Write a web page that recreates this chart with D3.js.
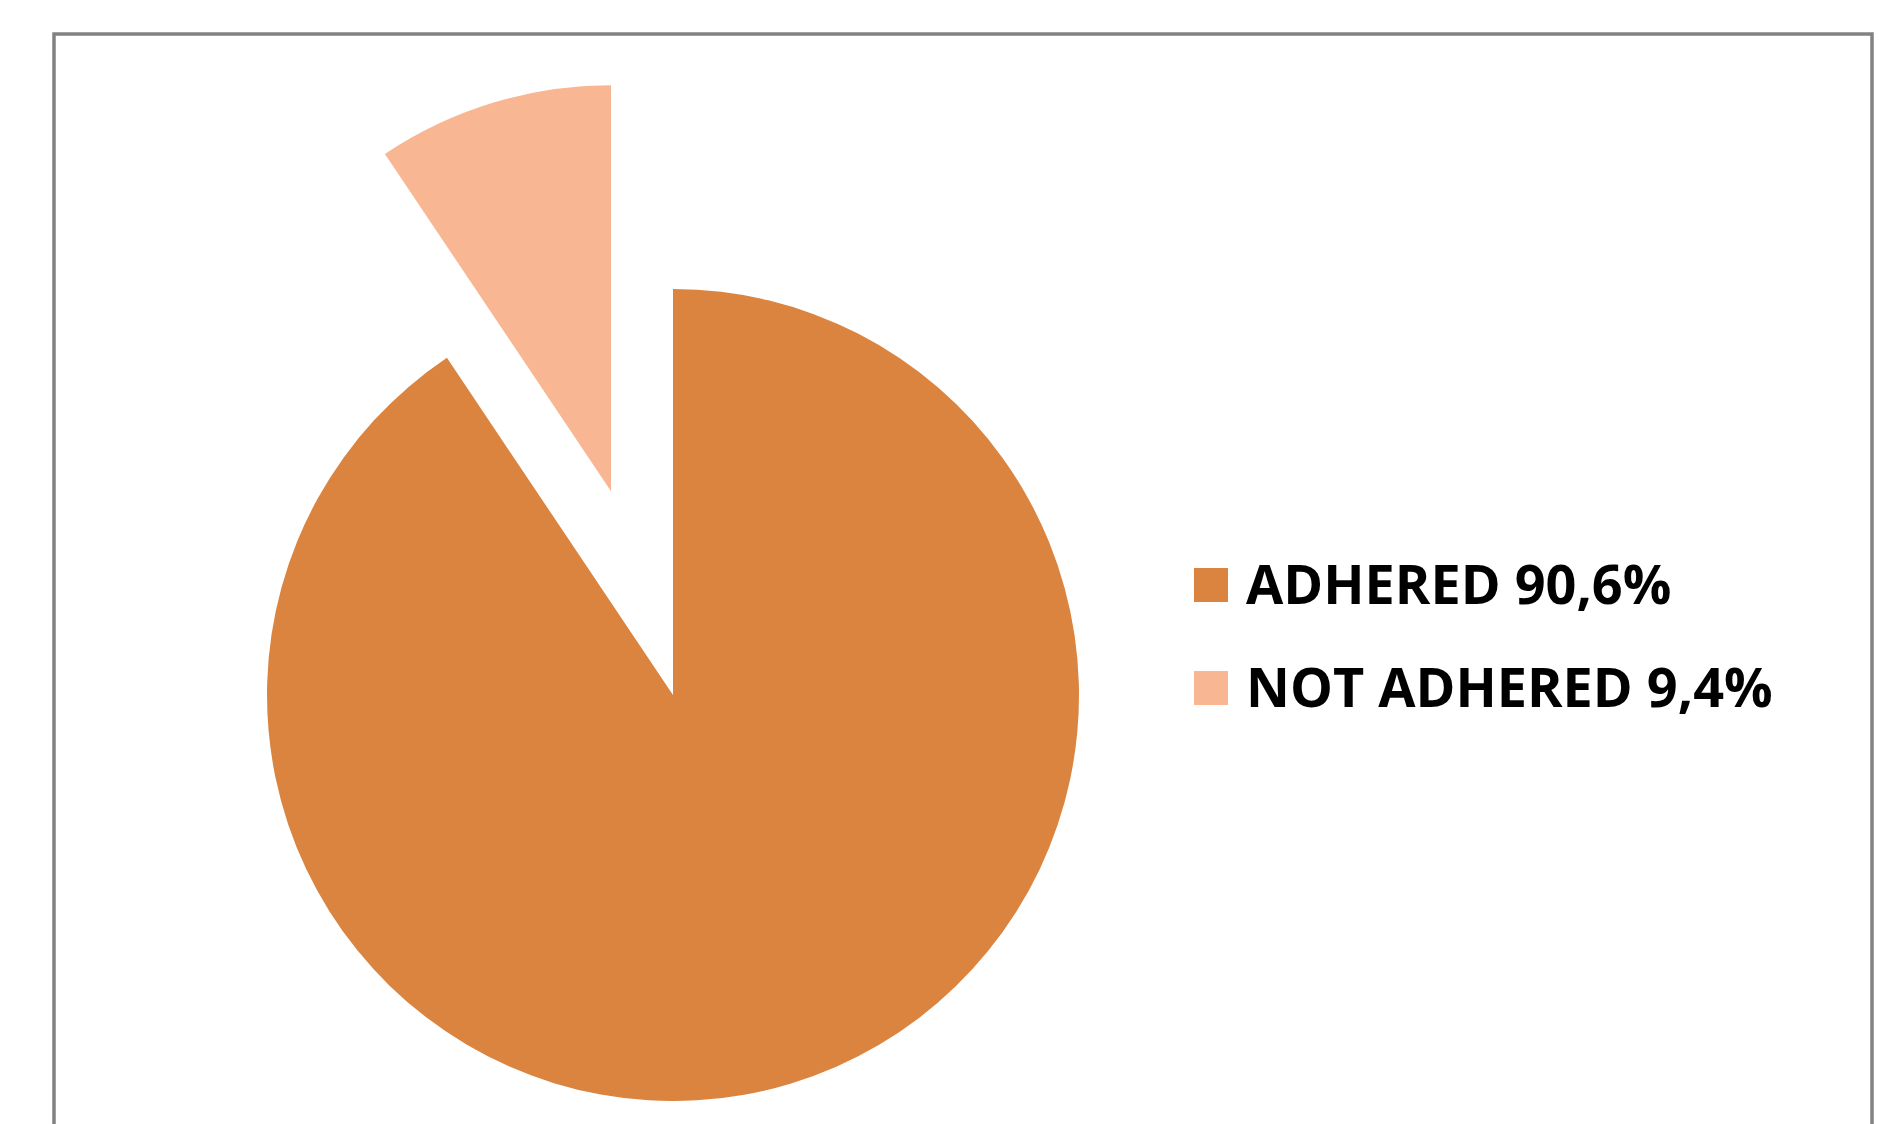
<!DOCTYPE html>
<html>
<head>
<meta charset="utf-8">
<script src="https://cdn.jsdelivr.net/npm/d3@7"></script>
<style>
    html, body { margin: 0; padding: 0; background: #fff; }
    svg { display: block; }
</style>
</head>
<body>
<svg id="chart"></svg>
<script>
const categories = ['ADHERED', 'NOT ADHERED'];
const values = [90.6, 9.4];
const valueLabels = ['90,6%', '9,4%'];
const colors = ['#DB843F', '#F8B692'];
const explode = [0, 213];

function renderChart() {
    const width = 1879;
    const height = 1124;
    const cx = 673;
    const cy = 695;
    const radius = 406;

    const svg = d3
        .select('#chart')
        .attr('width', width)
        .attr('height', height)
        .style('font-family', '"Open Sans", sans-serif');

    // chart area frame (bottom edge falls outside the picture)
    svg.append('rect')
        .attr('x', 54)
        .attr('y', 34)
        .attr('width', 1818)
        .attr('height', 1200)
        .attr('fill', '#fff')
        .attr('stroke', '#828282')
        .attr('stroke-width', 3.5);

    const data = categories.map((c, i) => ({
        name: c,
        value: values[i],
        label: valueLabels[i],
        color: colors[i],
        offset: explode[i]
    }));

    const pie = d3.pie().sort(null).value((d) => d.value);
    const arc = d3.arc().innerRadius(0).outerRadius(radius);

    svg.append('g')
        .attr('transform', `translate(${cx},${cy})`)
        .selectAll('path')
        .data(pie(data))
        .enter()
        .append('path')
        .attr('d', arc)
        .attr('fill', (d) => d.data.color)
        .attr('transform', (d) => {
            const mid = (d.startAngle + d.endAngle) / 2;
            const dx = Math.sin(mid) * d.data.offset;
            const dy = -Math.cos(mid) * d.data.offset;
            return `translate(${dx},${dy})`;
        });

    // legend
    const legend = svg
        .append('g')
        .selectAll('g')
        .data(data)
        .enter()
        .append('g')
        .attr('transform', (d, i) => `translate(1194,${568 + i * 103})`);

    legend.append('rect')
        .attr('width', 34)
        .attr('height', 34)
        .attr('fill', (d) => d.color);

    legend.append('text')
        .attr('x', 52)
        .attr('y', 36)
        .attr('font-size', 54)
        .attr('font-weight', 'bold')
        .attr('fill', '#000')
        .text((d) => `${d.name} ${d.label}`);
}
renderChart();
</script>
</body>
</html>
